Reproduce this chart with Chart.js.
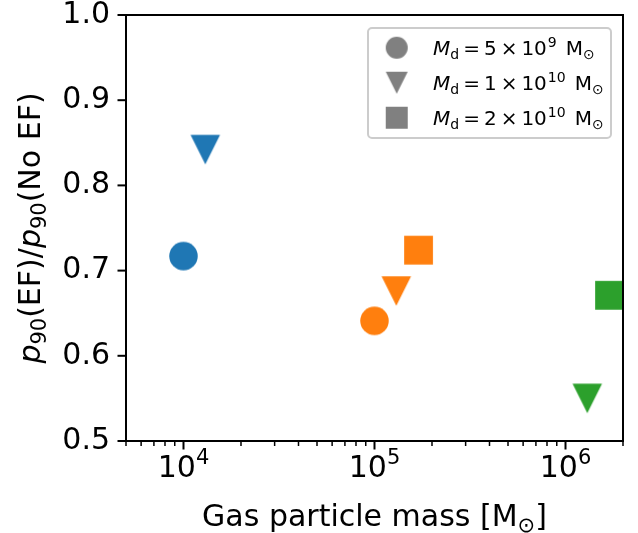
<!DOCTYPE html>
<html>
<head>
<meta charset="utf-8">
<script src="https://cdn.jsdelivr.net/npm/chart.js@4.4.0/dist/chart.umd.min.js"></script>
<style>
html,body{margin:0;padding:0;background:#fff}
#wrap{width:638px;height:533px;position:relative}
</style>
</head>
<body>
<div id="wrap"><canvas id="chart" width="638" height="533"></canvas></div>
<script>

/* ---------------- DATA ---------------- */

const circleMass = [1e4, 1e5]
const circleRatio = [0.717, 0.641]
const circleColors = ["#1f77b4", "#ff7f0e"]

const triangleMass = [1.3e4, 1.3e5, 1.3e6]
const triangleRatio = [0.842, 0.676, 0.550]
const triangleColors = ["#1f77b4", "#ff7f0e", "#2ca02c"]

const squareMass = [1.7e5, 1.7e6]
const squareRatio = [0.724, 0.671]
const squareColors = ["#ff7f0e", "#2ca02c"]

const diskCoef = ["5", "1", "2"]
const diskExp = ["9", "10", "10"]
const legendShapes = ["circle", "triangle", "square"]

const xMajorTicks = [1e4, 1e5, 1e6]
const yTicks = [0.5, 0.6, 0.7, 0.8, 0.9, 1.0]

const FONT = "'DejaVu Sans', sans-serif"


/* ---------------- MARKERS ---------------- */

function marker(shape, color, size){
const c = document.createElement("canvas")
c.width = c.height = Math.ceil(size) + 2
const g = c.getContext("2d")
const m = c.width / 2, h = size / 2
g.fillStyle = color
g.beginPath()
if(shape === "circle") g.arc(m, m, h, 0, Math.PI * 2)
if(shape === "triangle"){ g.moveTo(m - h, m - h); g.lineTo(m + h, m - h); g.lineTo(m, m + h); g.closePath() }
if(shape === "square") g.rect(m - h, m - h, size, size)
g.fill()
return c
}

function toPoints(xs, ys){
return xs.map((x, i) => ({x: x, y: ys[i]}))
}


/* ---------------- RICH TEXT ---------------- */

function segFont(s, size){
const sz = (s.sub || s.sup) ? size * 0.7 : size
return (s.it ? "italic " : "") + sz + "px " + FONT
}

function drawRich(ctx, segs, x, y, size, align){
let total = 0
segs.forEach(s => { ctx.font = segFont(s, size); total += (s.dx || 0) + ctx.measureText(s.t).width })
let cx = align === "center" ? x - total / 2 : x
ctx.textBaseline = "alphabetic"
ctx.textAlign = "left"
segs.forEach(s => {
ctx.font = segFont(s, size)
cx += s.dx || 0
let dy = 0
if(s.sub) dy = size * 0.2
if(s.sup) dy = -size * 0.42
ctx.fillText(s.t, cx, y + dy)
cx += ctx.measureText(s.t).width
})
}


/* ---------------- FRAME / TICKS / LABELS / LEGEND ---------------- */

const framePlugin = {
id: "frame",
afterDraw(chart){
const ctx = chart.ctx
const a = chart.chartArea
const xs = chart.scales.x
const ys = chart.scales.y

ctx.save()
ctx.strokeStyle = "#000"
ctx.fillStyle = "#000"

// x ticks
xs.ticks.forEach(t => {
const px = xs.getPixelForValue(t.value)
const lg = Math.log10(t.value)
const major = Math.abs(lg - Math.round(lg)) < 1e-9
ctx.lineWidth = major ? 2 : 1.5
ctx.beginPath()
ctx.moveTo(px, a.bottom)
ctx.lineTo(px, a.bottom + (major ? 8.5 : 5))
ctx.stroke()
if(major){
drawRich(ctx, [{t: "10"}, {t: String(Math.round(lg)), sup: true}], px, 477, 30, "center")
}
})

// y ticks
ys.ticks.forEach(t => {
const py = ys.getPixelForValue(t.value)
ctx.lineWidth = 2
ctx.beginPath()
ctx.moveTo(a.left - 8.5, py)
ctx.lineTo(a.left, py)
ctx.stroke()
})

// spines
ctx.lineWidth = 2
ctx.strokeRect(a.left, a.top, a.right - a.left, a.bottom - a.top)

// x title
drawRich(ctx, [{t: "Gas particle mass [M"}, {t: "\u2299", sub: true}, {t: "]"}],
(a.left + a.right) / 2, 526, 30, "center")

// y title
ctx.save()
ctx.translate(40, (a.top + a.bottom) / 2)
ctx.rotate(-Math.PI / 2)
drawRich(ctx, [
{t: "p", it: true}, {t: "90", sub: true}, {t: "(EF)/"},
{t: "p", it: true}, {t: "90", sub: true}, {t: "(No EF)"}
], 0, 0, 30, "center")
ctx.restore()

// legend
const lx = 368, ly = 28, lw = 243, lh = 110
ctx.beginPath()
ctx.roundRect(lx, ly, lw, lh, 4)
ctx.fillStyle = "rgba(255,255,255,0.8)"
ctx.fill()
ctx.strokeStyle = "#cccccc"
ctx.lineWidth = 2
ctx.stroke()

legendShapes.forEach((shape, i) => {
const cy = 47.7 + i * 35
const img = marker(shape, "#808080", 22)
ctx.drawImage(img, 396.7 - img.width / 2, cy - img.height / 2)
ctx.fillStyle = "#000"
drawRich(ctx, [
{t: "M", it: true}, {t: "d", sub: true},
{t: "=", dx: 4}, {t: diskCoef[i], dx: 4}, {t: "\u00d7", dx: 4}, {t: "10", dx: 4},
{t: diskExp[i], sup: true, dx: 1},
{t: "M", dx: 9}, {t: "\u2299", sub: true}
], 433, cy + 7.5, 20, "left")
})

ctx.restore()
}
}


/* ---------------- CHART ---------------- */

function minorTicks(min, max){
const out = []
for(let e = 3; e <= 6; e++){
for(let m = 1; m <= 9; m++){
const v = m * Math.pow(10, e)
if(v >= min && v <= max) out.push({value: v})
}
}
return out
}

new Chart(document.getElementById("chart"), {

type: "scatter",

data: {
datasets: [
{
label: "circle",
data: toPoints(circleMass, circleRatio),
pointStyle: circleColors.map(c => marker("circle", c, 28.5)),
pointRadius: 14,
clip: 0
},
{
label: "triangle",
data: toPoints(triangleMass, triangleRatio),
pointStyle: triangleColors.map(c => marker("triangle", c, 29.5)),
pointRadius: 14,
clip: 0
},
{
label: "square",
data: toPoints(squareMass, squareRatio),
pointStyle: squareColors.map(c => marker("square", c, 28.8)),
pointRadius: 14,
clip: 0
}
]
},

options: {
responsive: false,
animation: false,
layout: {padding: {left: 0, right: 8, top: 15, bottom: 0}},
plugins: {legend: {display: false}, tooltip: {enabled: false}},
scales: {
x: {
type: "logarithmic",
min: 5000,
max: 2e6,
grid: {display: false, drawTicks: false},
border: {display: false},
ticks: {display: false},
afterBuildTicks: s => { s.ticks = minorTicks(s.min, s.max) },
afterFit: s => { s.height = 92; s.paddingLeft = 0; s.paddingRight = 0 }
},
y: {
min: 0.5,
max: 1.0,
grid: {display: false, drawTicks: false},
border: {display: false},
ticks: {
color: "#000",
padding: 16,
font: {family: FONT, size: 30},
callback: v => Number(v).toFixed(1)
},
afterBuildTicks: s => { s.ticks = yTicks.map(v => ({value: v})) },
afterFit: s => { s.width = 126; s.paddingTop = 0; s.paddingBottom = 0 }
}
}
},

plugins: [framePlugin]

})

</script>
</body>
</html>
